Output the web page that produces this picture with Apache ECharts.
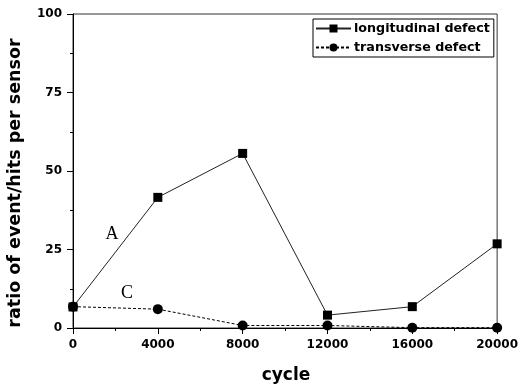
<!DOCTYPE html>
<html><head><meta charset="utf-8">
<script src="https://cdn.jsdelivr.net/npm/echarts@6/dist/echarts.min.js"></script>
<style>html,body{margin:0;padding:0;background:#fff}#c{width:521px;height:389px}</style>
</head><body><div id="c"></div>
<script>
var cycles = [0, 4000, 8000, 12000, 16000, 20000];
var longitudinal = [6.7, 41.6, 55.6, 4.1, 6.8, 26.8];
var transverse = [6.8, 6.0, 0.8, 0.8, 0.1, 0.1];
var xTicks = [0, 4000, 8000, 12000, 16000, 20000];
var yTicks = [0, 25, 50, 75, 100];

var chart = echarts.init(document.getElementById('c'), null, {renderer: 'canvas'});
var bold = {fontFamily: 'DejaVu Sans', fontWeight: 'bold', color: '#000'};
chart.setOption({
  animation: false,
  backgroundColor: '#fff',
  grid: {left: 73, right: 21, top: 14, bottom: 61, show: true, borderColor: '#333', borderWidth: 1, backgroundColor: 'transparent'},
  xAxis: {
    type: 'value', min: xTicks[0], max: xTicks[xTicks.length - 1], interval: 4000,
    axisLine: {lineStyle: {color: '#000', width: 1}},
    axisTick: {show: true, inside: false, length: 6, lineStyle: {color: '#000'}},
    minorTick: {show: true, splitNumber: 2, length: 3, lineStyle: {color: '#000'}},
    splitLine: {show: false},
    axisLabel: Object.assign({fontSize: 12, margin: 11, formatter: function (v) { return String(v); }}, bold)
  },
  yAxis: {
    type: 'value', min: yTicks[0], max: yTicks[yTicks.length - 1], interval: 25,
    axisLine: {show: true, lineStyle: {color: '#000', width: 1}},
    axisTick: {show: true, inside: false, length: 6, lineStyle: {color: '#000'}},
    minorTick: {show: true, splitNumber: 2, length: 3, lineStyle: {color: '#000'}},
    splitLine: {show: false},
    axisLabel: Object.assign({fontSize: 12, margin: 11, formatter: function (v) { return String(v); }}, bold)
  },
  legend: {
    orient: 'vertical', left: 313, top: 19, width: 179,
    borderColor: '#000', borderWidth: 1, borderRadius: 0,
    padding: [3, 4, 3, 2], itemGap: 6, itemWidth: 35, itemHeight: 10,
    textStyle: {fontFamily: 'DejaVu Sans', fontWeight: 'bold', fontSize: 12.7, color: '#000', padding: [0, 0, 0, -2]},
    data: ['longitudinal defect', 'transverse defect']
  },
  graphic: [
    {type: 'text', x: 15, y: 183, rotation: Math.PI / 2, style: {text: 'ratio of event/hits per sensor', font: 'bold 17.5px "DejaVu Sans"', fill: '#000', textAlign: 'center', textVerticalAlign: 'middle'}},
    {type: 'text', x: 286, y: 376, style: {text: 'cycle', font: 'bold 17px "DejaVu Sans"', fill: '#000', textAlign: 'center', textVerticalAlign: 'middle'}},
    {type: 'text', x: 112, y: 234, style: {text: 'A', font: '18px "Liberation Serif"', fill: '#000', textAlign: 'center', textVerticalAlign: 'middle'}},
    {type: 'text', x: 127, y: 293, style: {text: 'C', font: '18px "Liberation Serif"', fill: '#000', textAlign: 'center', textVerticalAlign: 'middle'}}
  ],
  series: [
    {
      name: 'longitudinal defect', type: 'line',
      data: cycles.map(function (c, i) { return [c, longitudinal[i]]; }),
      symbol: 'rect', symbolSize: 9, showAllSymbol: true,
      lineStyle: {color: '#222', width: 1, type: 'solid'},
      itemStyle: {color: '#000'}, clip: true
    },
    {
      name: 'transverse defect', type: 'line',
      data: cycles.map(function (c, i) { return [c, transverse[i]]; }),
      symbol: 'circle', symbolSize: 10, showAllSymbol: true,
      lineStyle: {color: '#000', width: 1, type: [3, 2]},
      itemStyle: {color: '#000'}, clip: true
    }
  ]
});
</script></body></html>
